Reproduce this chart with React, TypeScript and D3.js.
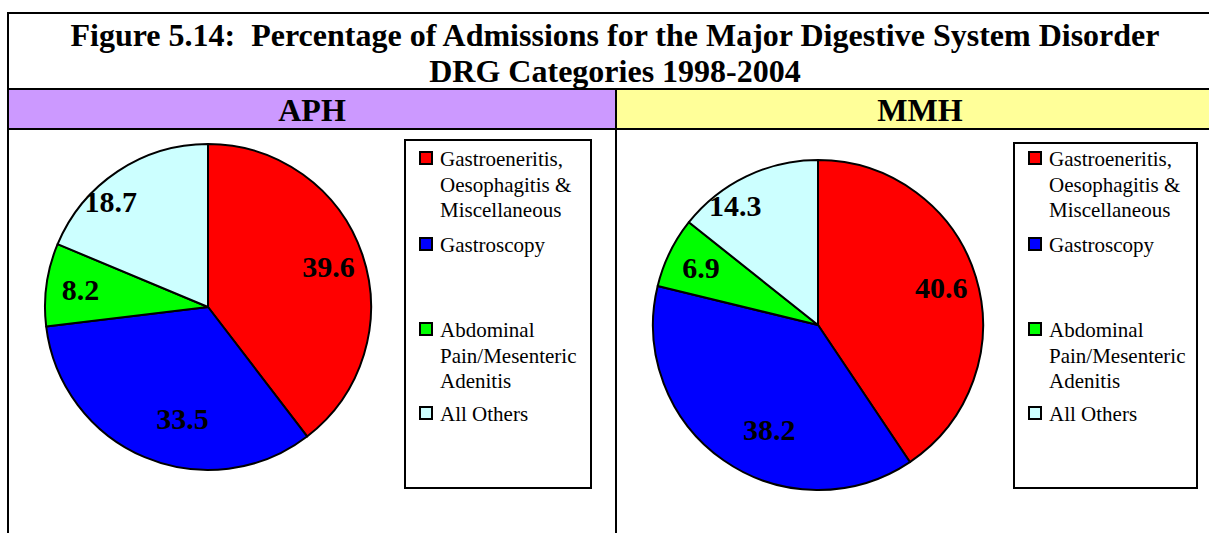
import * as d3 from 'd3'

// slices in order, clockwise from 12 o'clock
const categories = [
  'Gastroeneritis, Oesophagitis & Miscellaneous',
  'Gastroscopy',
  'Abdominal Pain/Mesenteric Adenitis',
  'All Others',
]
const aphValues = [39.6, 33.5, 8.2, 18.7]
const mmhValues = [40.6, 38.2, 6.9, 14.3]

// legend text as it wraps in the original
const legendLines = [
  ['Gastroeneritis,', 'Oesophagitis &', 'Miscellaneous'],
  ['Gastroscopy'],
  ['Abdominal', 'Pain/Mesenteric', 'Adenitis'],
  ['All Others'],
]

const titleLines = [
  'Figure 5.14:  Percentage of Admissions for the Major Digestive System Disorder',
  'DRG Categories 1998-2004',
]

const colors = ['#ff0000', '#0000ff', '#00ff00', '#ccffff']
// Excel's "best fit" labels don't sit exactly on the slice bisector
const labelDepth = [0.78, 0.7, 0.79, 0.88]
const labelTurn = [0, -10, 0, -9] // degrees
const legendRowY = [159, 245, 330, 414]

const W = 1209
const H = 533
const serif = '"Liberation Serif", "Times New Roman", serif'

interface PanelProps {
  name: string
  fill: string
  x0: number
  x1: number
  values: number[]
  cx: number
  cy: number
  r: number
  legendX: number
  legendW: number
  legendTop: number
}

function Panel({ name, fill, x0, x1, values, cx, cy, r, legendX, legendW, legendTop }: PanelProps) {
  const pie = d3.pie<number>().sort(null).value(d => d)
  const arcs = pie(values)
  const arc = d3.arc<d3.PieArcDatum<number>>().innerRadius(0).outerRadius(r)

  return (
    <g>
      <rect x={x0} y={89} width={x1 - x0} height={40} fill={fill} />
      <text x={(x0 + x1) / 2} y={110} textAnchor="middle" dominantBaseline="central"
        fontFamily={serif} fontWeight="bold" fontSize={32}>{name}</text>

      <g transform={`translate(${cx},${cy})`}>
        {arcs.map((a, i) => (
          <path key={categories[i]} d={arc(a) || ''} fill={colors[i]} stroke="#000" strokeWidth={2} strokeLinejoin="round" />
        ))}
        {arcs.map((a, i) => {
          const mid = (a.startAngle + a.endAngle) / 2 + (labelTurn[i] * Math.PI) / 180
          const lr = r * labelDepth[i]
          return (
            <text key={'l' + i} x={Math.sin(mid) * lr} y={-Math.cos(mid) * lr}
              textAnchor="middle" dominantBaseline="central"
              fontFamily={serif} fontWeight="bold" fontSize={30}>{values[i].toFixed(1)}</text>
          )
        })}
      </g>

      <rect x={legendX} y={legendTop} width={legendW} height={488 - legendTop} fill="#fff" stroke="#000" strokeWidth={2} />
      {categories.map((c, i) => (
        <g key={c}>
          <rect x={legendX + 15} y={legendRowY[i] - 7} width={12} height={12} fill={colors[i]} stroke="#000" strokeWidth={2} />
          {legendLines[i].map((ln, j) => (
            <text key={ln} x={legendX + 35} y={legendRowY[i] + j * 25.5} dominantBaseline="central"
              fontFamily={serif} fontSize={21}>{ln}</text>
          ))}
        </g>
      ))}
    </g>
  )
}

export default function App() {
  return (
    <svg width={W} height={H} style={{ position: 'absolute', left: 0, top: 0, background: '#fff' }}>
      <rect x={0} y={0} width={W} height={H} fill="#fff" />
      {titleLines.map((t, i) => (
        <text key={t} x={615} y={35 + i * 36} textAnchor="middle" dominantBaseline="central"
          style={{ whiteSpace: 'pre' }}
          fontFamily={serif} fontWeight="bold" fontSize={32}>{t}</text>
      ))}

      <Panel name="APH" fill="#cc99ff" x0={8} x1={616} values={aphValues}
        cx={208} cy={307} r={163} legendX={405} legendW={186} legendTop={140} />
      <Panel name="MMH" fill="#ffff99" x0={616} x1={1224} values={mmhValues}
        cx={818} cy={325} r={165} legendX={1014} legendW={183} legendTop={143} />

      {/* frame lines */}
      <line x1={8} x2={1224} y1={13} y2={13} stroke="#000" strokeWidth={2} />
      <line x1={8} x2={1224} y1={89} y2={89} stroke="#000" strokeWidth={2} />
      <line x1={8} x2={1224} y1={129} y2={129} stroke="#000" strokeWidth={2} />
      <line x1={8} x2={8} y1={12} y2={H} stroke="#000" strokeWidth={2} />
      <line x1={616} x2={616} y1={89} y2={H} stroke="#000" strokeWidth={2} />
    </svg>
  )
}
